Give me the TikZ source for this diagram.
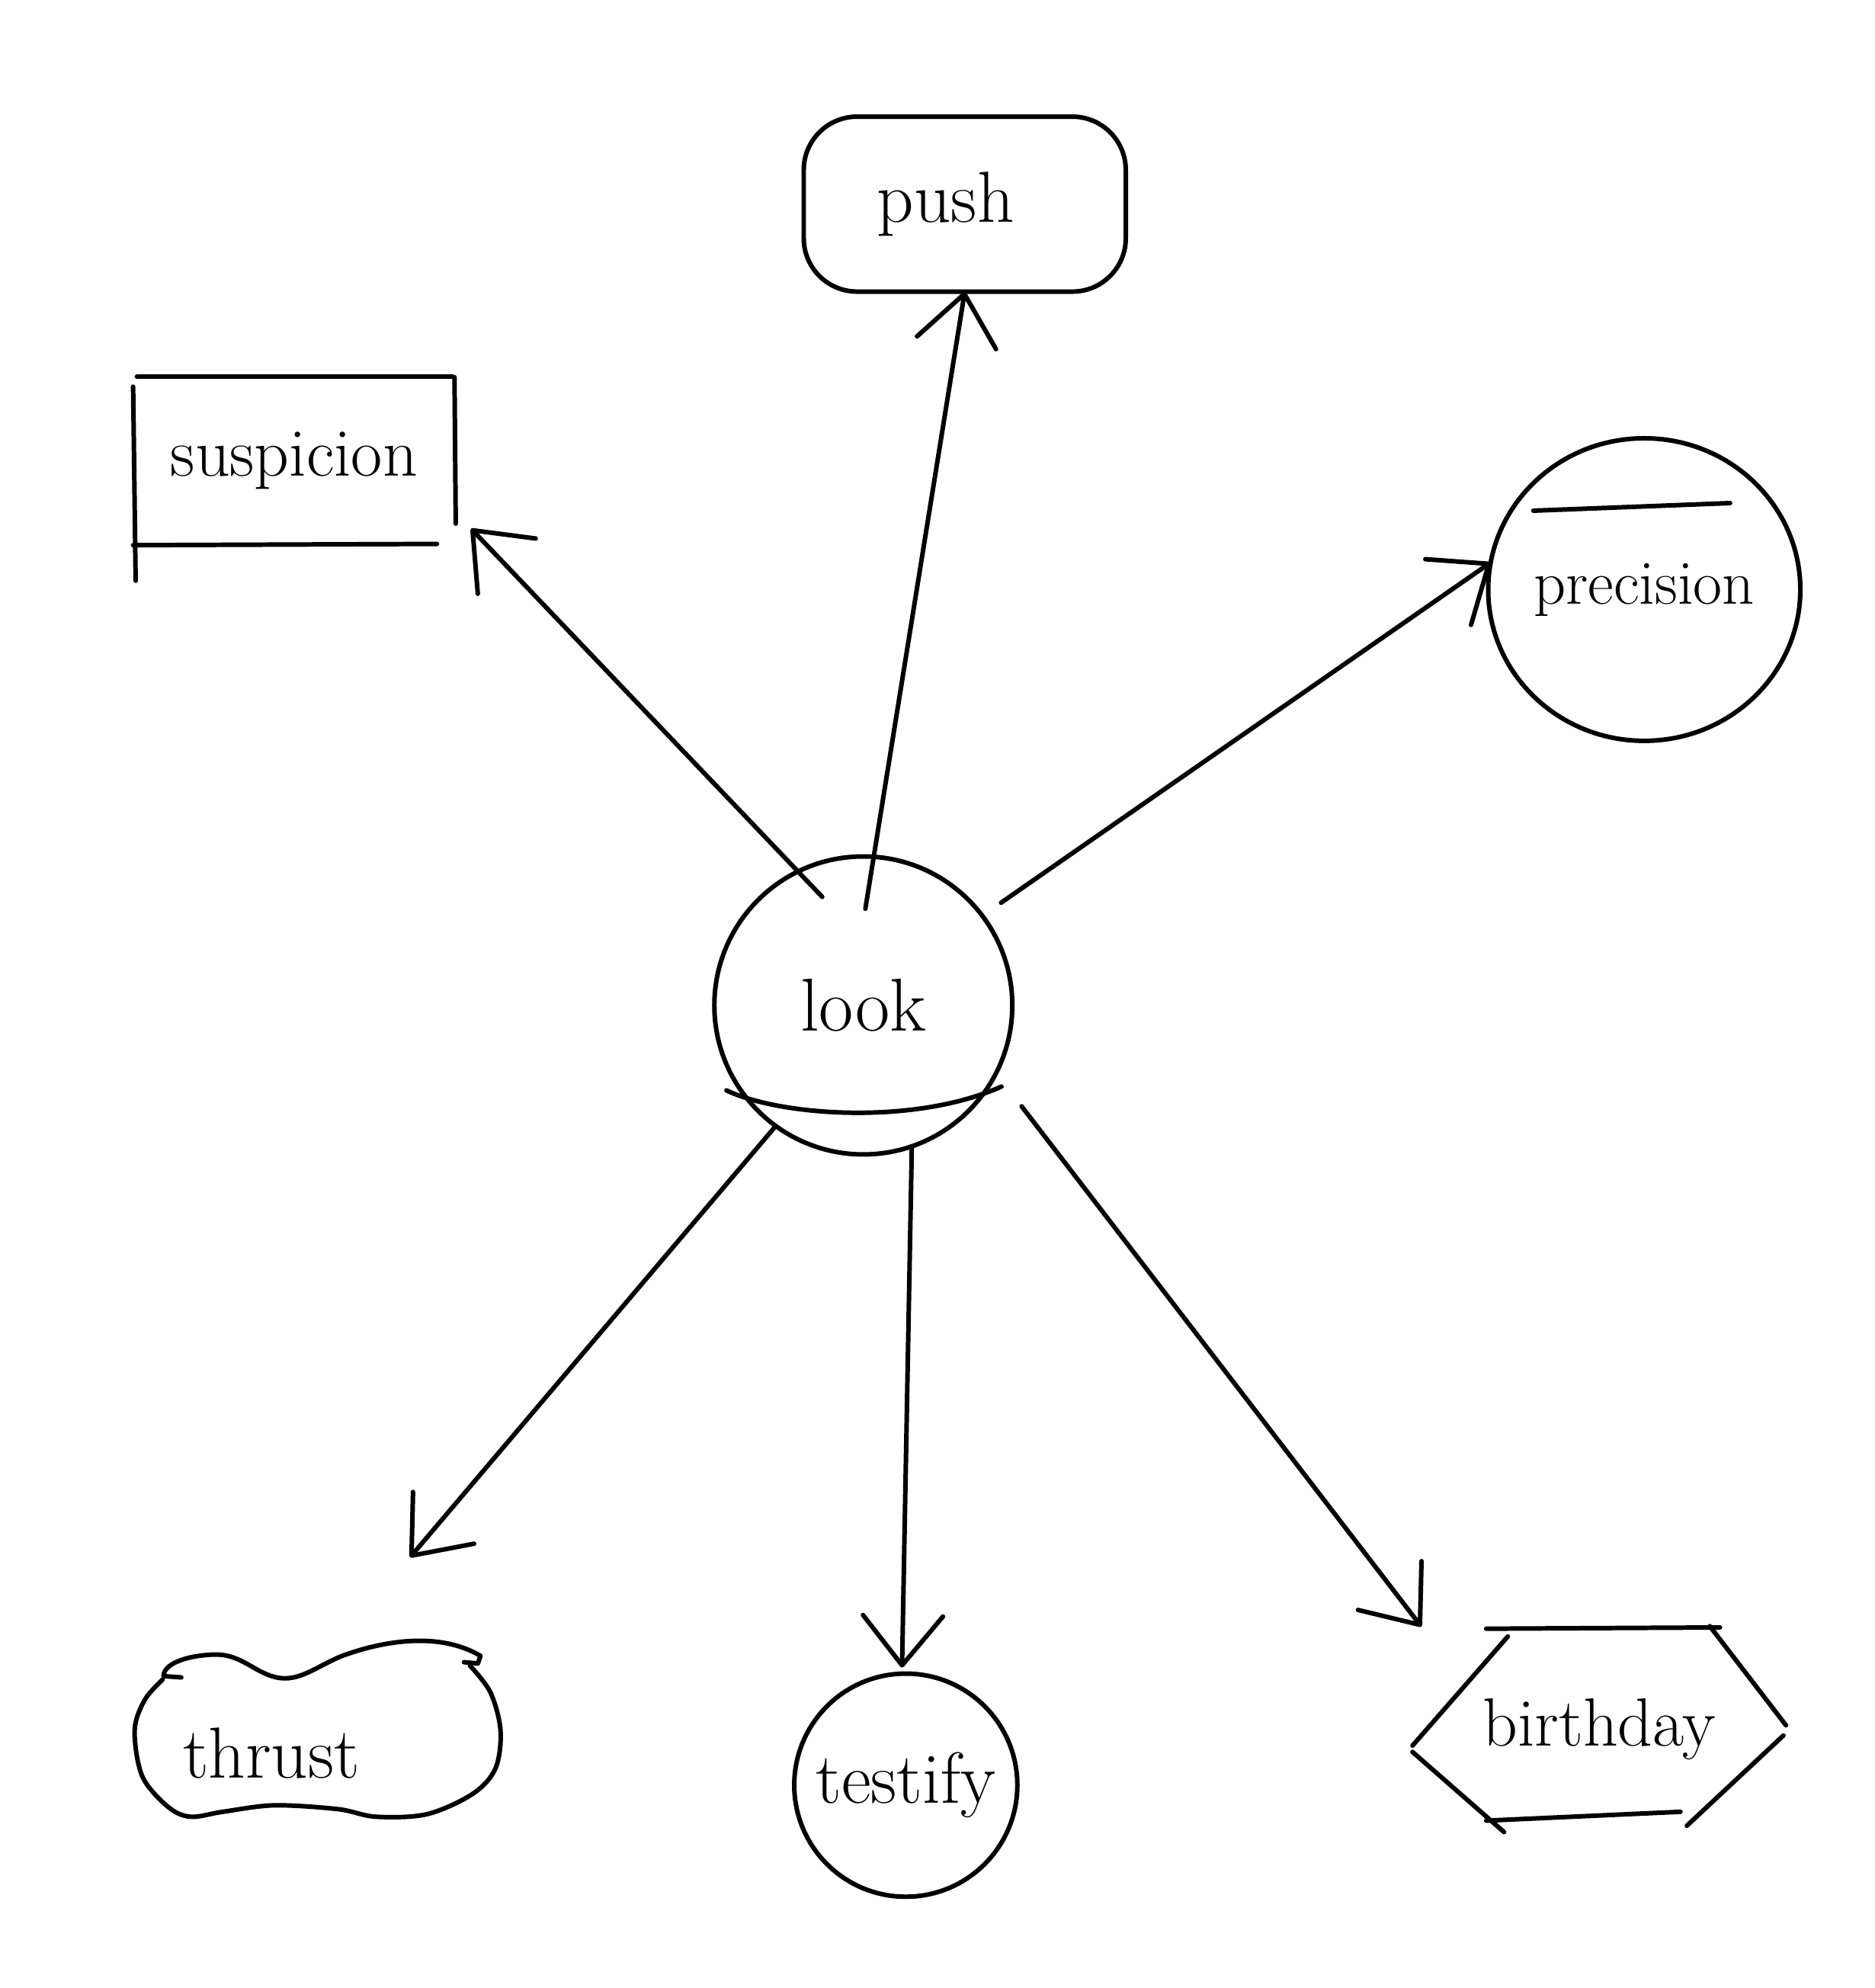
\documentclass[tikz,border=0pt]{standalone}
\usetikzlibrary{arrows.meta,shapes.geometric}
\newcommand{\wsize}[1]{\fontsize{#1}{#1}\selectfont}
\begin{document}
\begin{tikzpicture}[x=0.016633cm, y=-0.016633cm,
  ink/.style={line width=1.7pt, line cap=round, line join=round},
  word/.style={font=\wsize{26}, inner sep=0pt, outer sep=0pt},
  outlined/.style={word, ink, draw},
  arr/.style={ink, -{Straight Barb[length=0.65cm,width=1.05cm,round]}},
]
% canvas
\fill[white] (0,0) rectangle (1479,1568);
\useasboundingbox (0,0) rectangle (1479,1568);

% nodes
\node[outlined, circle, minimum size=3.909cm, font=\wsize{28}] (look) at (681,793) {look};
\node[outlined, rectangle, rounded corners=0.7cm, minimum width=4.225cm, minimum height=2.295cm, font=\wsize{27}] (push) at (761,161) {\hspace*{-0.5cm}push};
\node[word, minimum width=4.158cm, minimum height=2.212cm, font=\wsize{25.5}] (suspicion) at (232,363.5) {suspicion};
\node[outlined, ellipse, minimum width=3.516cm, minimum height=3.969cm, font=\wsize{23.5}] (precision) at (1297,465) {precision};
\node[word, minimum width=2.994cm, minimum height=1.331cm, font=\wsize{27}] (thrust) at (214,1383) {thrust};
\node[outlined, circle, minimum size=2.927cm, font=\wsize{27}] (testify) at (714.5,1408) {testify};
\node[word, minimum width=4.907cm, minimum height=2.695cm, font=\wsize{25.5}] (birthday) at (1261.5,1364) {birthday};

% chord across the lower part of the hub circle
\draw[ink] (573,860) .. controls (615,880) and (720,888) .. (790,857);

% open box around "suspicion"
\draw[ink] (108,297) -- (357,297);
\draw[ink] (358.5,297.5) -- (359.5,413);
\draw[ink] (105,305) -- (107,458);
\draw[ink] (105,430) -- (344.7,429);

% chord near the top of the "precision" ellipse
\draw[ink] (1209.5,402.8) -- (1364.7,396.8);

% peanut outline around "thrust", drawn in two strokes
\draw[ink] (143,1323) -- (129,1322)
  .. controls (129,1313) and (145,1306) .. (168,1305)
  .. controls (190,1304) and (200,1319) .. (218,1323)
  .. controls (236,1327) and (250,1314) .. (270,1306)
  .. controls (300,1295) and (345,1286) .. (379,1306)
  -- (377,1312) -- (366,1311);
\draw[ink] plot[smooth, tension=0.55] coordinates {
  (370.7,1313.7) (386.8,1334.7) (394.8,1364.8) (390.8,1394.8) (372.8,1414.9)
  (336.7,1430.9) (296.6,1432.9) (266.5,1426.9) (216.4,1423.9)
  (176.4,1428.9) (150.3,1432.9) (132.3,1424.9) (112.2,1400.9)
  (106.2,1364.8) (114.2,1340.7) (128.3,1324.7)};

% hexagon around "birthday"
\draw[ink] (1172.3,1284.6) -- (1356.7,1283.6);
\draw[ink] (1189.4,1290.7) -- (1114.2,1376.8);
\draw[ink] (1114.2,1381.8) -- (1186.4,1445);
\draw[ink] (1172.3,1436) -- (1325.6,1429);
\draw[ink] (1348.7,1282.6) -- (1408.8,1360.8);
\draw[ink] (1406.8,1368.8) -- (1330.6,1440);

% connectors
\draw[arr, shorten <=-0.46cm, shorten >=0.35cm] (look.116) -- (suspicion.-17);
\draw[arr, shorten <=-0.69cm] (look.86) -- (push.south);
\draw[arr, shorten <=0.3cm] (look.37) -- (precision.170);
\draw[arr, shorten >=2.5cm] (look.234) -- (thrust.73);
\draw[arr, shorten >=0.08cm] (look.-71) -- (testify.92);
\draw[arr, shorten <=0.55cm] (look.-27) -- (birthday.150);
\end{tikzpicture}
\end{document}
